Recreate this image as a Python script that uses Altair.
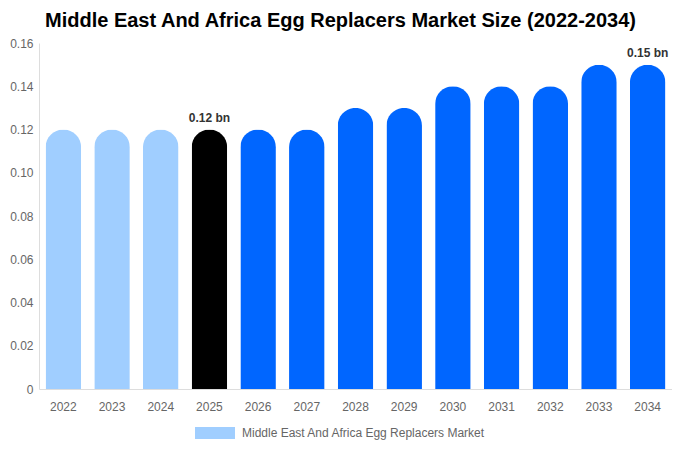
import pandas as pd
import altair as alt

FONT = "Liberation Sans"
SERIES = "Middle East And Africa Egg Replacers Market"

years = [str(y) for y in range(2022, 2035)]
values = [0.12, 0.12, 0.12, 0.12, 0.12, 0.12, 0.13, 0.13, 0.14, 0.14, 0.14, 0.15, 0.15]
labels = ["", "", "", "0.12 bn", "", "", "", "", "", "", "", "", "0.15 bn"]
periods = ["history"] * 3 + ["current"] + ["forecast"] * 9

df = pd.DataFrame({"year": years, "value": values, "label": labels, "period": periods})

x_enc = alt.X(
    "year:N",
    title=None,
    sort=years,
    scale=alt.Scale(paddingInner=0.27, paddingOuter=0.135),
    axis=alt.Axis(labelAngle=0, labelPadding=12, ticks=False, domainColor="#dddddd"),
)
y_enc = alt.Y(
    "value:Q",
    title=None,
    scale=alt.Scale(domain=[0, 0.16], nice=False),
    axis=alt.Axis(
        values=[0, 0.02, 0.04, 0.06, 0.08, 0.1, 0.12, 0.14, 0.16],
        labelExpr="datum.value == 0 ? '0' : format(datum.value, '.2f')",
        ticks=False,
        grid=False,
        labelPadding=6,
        domainColor="#dddddd",
    ),
)

base = alt.Chart(df)

bars = base.mark_bar(cornerRadiusTopLeft=18, cornerRadiusTopRight=18).encode(
    x=x_enc,
    y=y_enc,
    color=alt.Color(
        "period:N",
        scale=alt.Scale(domain=["history", "current", "forecast"], range=["#a0ceff", "#000000", "#0066ff"]),
        legend=alt.Legend(
            title=None,
            values=["history"],
            labelExpr=f"'{SERIES}'",
            orient="none",
            legendX=156,
            legendY=370,
            symbolType="M-1,-0.3L1,-0.3L1,0.3L-1,0.3Z",
            symbolSize=1600,
            symbolStrokeWidth=0,
            labelFontSize=12,
            labelColor="#666666",
            labelFont=FONT,
            labelLimit=0,
            labelOffset=7,
        ),
    ),
)

text = base.mark_text(dy=-12, fontSize=12, fontWeight="bold", color="#333333", font=FONT).encode(
    x=x_enc,
    y=y_enc,
    text="label:N",
)

chart = alt.layer(bars, text).properties(
    width=633,
    height=346,
    autosize=alt.AutoSizeParams(type="none"),
    padding={"left": 31, "top": 35, "right": 0, "bottom": 53},
    title=alt.TitleParams(
        text="Middle East And Africa Egg Replacers Market Size (2022-2034)",
        fontSize=20,
        fontWeight="bold",
        color="#000000",
        font=FONT,
        dx=-15,
        offset=6,
    ),
).configure_axis(
    labelFont=FONT,
    labelFontSize=12,
    labelColor="#666666",
).configure_view(stroke=None)

chart.save("out.html", embed_options={"renderer": "svg", "actions": False})
